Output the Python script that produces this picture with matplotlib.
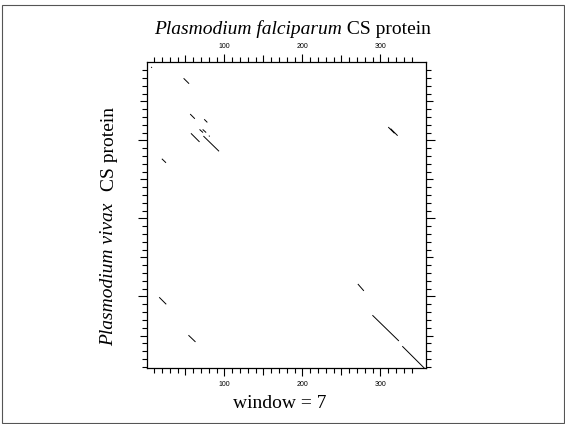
import matplotlib
matplotlib.use("Agg")
import matplotlib.pyplot as plt
from matplotlib.patches import Rectangle
from matplotlib.offsetbox import TextArea, HPacker, AnchoredOffsetbox

# Dot-plot matching segments (residue coordinates): P. falciparum (x) vs P. vivax (y)
seg_x0 = [47.6, 56.0, 74.0, 68.0, 72.0, 80.0, 57.0, 73.0, 19.7, 310.0, 313.0, 271.0, 289.7, 328.0, 16.3, 53.8, 6.0]
seg_y0 = [20.5, 66.3, 73.0, 86.0, 86.0, 94.0, 91.0, 94.5, 123.6, 83.0, 85.0, 284.0, 324.0, 363.7, 301.0, 349.6, 6.0]
seg_x1 = [54.6, 62.0, 78.0, 72.5, 76.5, 81.0, 68.0, 93.0, 25.0, 318.0, 322.0, 278.7, 323.6, 356.4, 25.3, 62.8, 7.0]
seg_y1 = [27.4, 72.3, 77.0, 90.0, 90.0, 95.0, 102.0, 114.0, 128.7, 91.0, 94.0, 292.8, 357.0, 392.0, 310.0, 358.2, 7.0]

x_len = 358
y_len = 392
major_ticks = [100, 200, 300]
mid_ticks = [50, 150, 250, 350]

fig = plt.figure(figsize=(5.65, 4.24), dpi=100)
W, H = 565, 424
left, right, top, bottom = 146.5, 425.7, 62.3, 368.3
ax = fig.add_axes([left / W, 1 - bottom / H, (right - left) / W, (bottom - top) / H])

for a, b, c, d in zip(seg_x0, seg_y0, seg_x1, seg_y1):
    ax.plot([a, c], [b, d], color="black", lw=0.7, solid_capstyle="butt")

ax.set_xlim(0, x_len)
ax.set_ylim(y_len, 0)

minor = [v for v in range(10, 400, 10) if v % 50 != 0]
ax.set_xticks(major_ticks)
ax.set_xticklabels([str(v) for v in major_ticks])
ax.set_xticks([v for v in minor if v < x_len], minor=True)
ax.set_yticks(major_ticks)
ax.set_yticklabels([])
ax.set_yticks([v for v in minor if v < y_len], minor=True)

ax.tick_params(axis="x", which="major", direction="out", length=5.8, width=0.8,
               top=True, bottom=True, labeltop=True, labelbottom=True,
               labelsize=5, pad=3)
ax.tick_params(axis="y", which="major", direction="out", length=6.3, width=0.8,
               left=True, right=True, labelleft=False)
ax.tick_params(which="minor", direction="out", length=3.6, width=0.8,
               top=True, bottom=True, left=True, right=True)
for lab in ax.get_xticklabels():
    lab.set_family("Liberation Sans")

# medium ticks at multiples of 50 (not 100)
for side in ["top", "bottom"]:
    sa = ax.secondary_xaxis(side)
    sa.set_xticks(mid_ticks[:3])
    sa.set_xticklabels([])
    sa.tick_params(length=4.8, width=0.8, direction="out")
    sa.spines[side].set_visible(False)
for side in ["left", "right"]:
    sa = ax.secondary_yaxis(side)
    sa.set_yticks(mid_ticks)
    sa.set_yticklabels([])
    sa.tick_params(length=4.8, width=0.8, direction="out")
    sa.spines[side].set_visible(False)

for s in ax.spines.values():
    s.set_linewidth(0.9)

serif = "Liberation Serif"
fs = 14

# Title (italic species + roman text)
ta1 = TextArea("Plasmodium falciparum", textprops=dict(family=serif, style="italic", fontsize=fs))
ta2 = TextArea(" CS protein", textprops=dict(family=serif, fontsize=fs))
box = HPacker(children=[ta1, ta2], align="baseline", pad=0, sep=0)
ab = AnchoredOffsetbox(loc="center", child=box, frameon=False,
                       bbox_to_anchor=(292 / W, 1 - 29 / H), bbox_transform=fig.transFigure,
                       borderpad=0, pad=0)
fig.add_artist(ab)

# Y label (rotated, two parts)
fig.text(109 / W, 1 - 274 / H, "Plasmodium vivax", family=serif, style="italic",
         fontsize=fs, rotation=90, ha="center", va="center")
fig.text(109 / W, 1 - 149 / H, "CS protein", family=serif,
         fontsize=fs, rotation=90, ha="center", va="center")

fig.text(280 / W, 1 - 404 / H, "window = 7", family=serif, fontsize=fs,
         ha="center", va="center")

fig.add_artist(Rectangle((1.5 / W, 1.5 / H), (W - 3) / W, (H - 6) / H,
                         transform=fig.transFigure, fill=False,
                         edgecolor="#555555", lw=0.8))

fig.savefig("out.png", dpi=100)
